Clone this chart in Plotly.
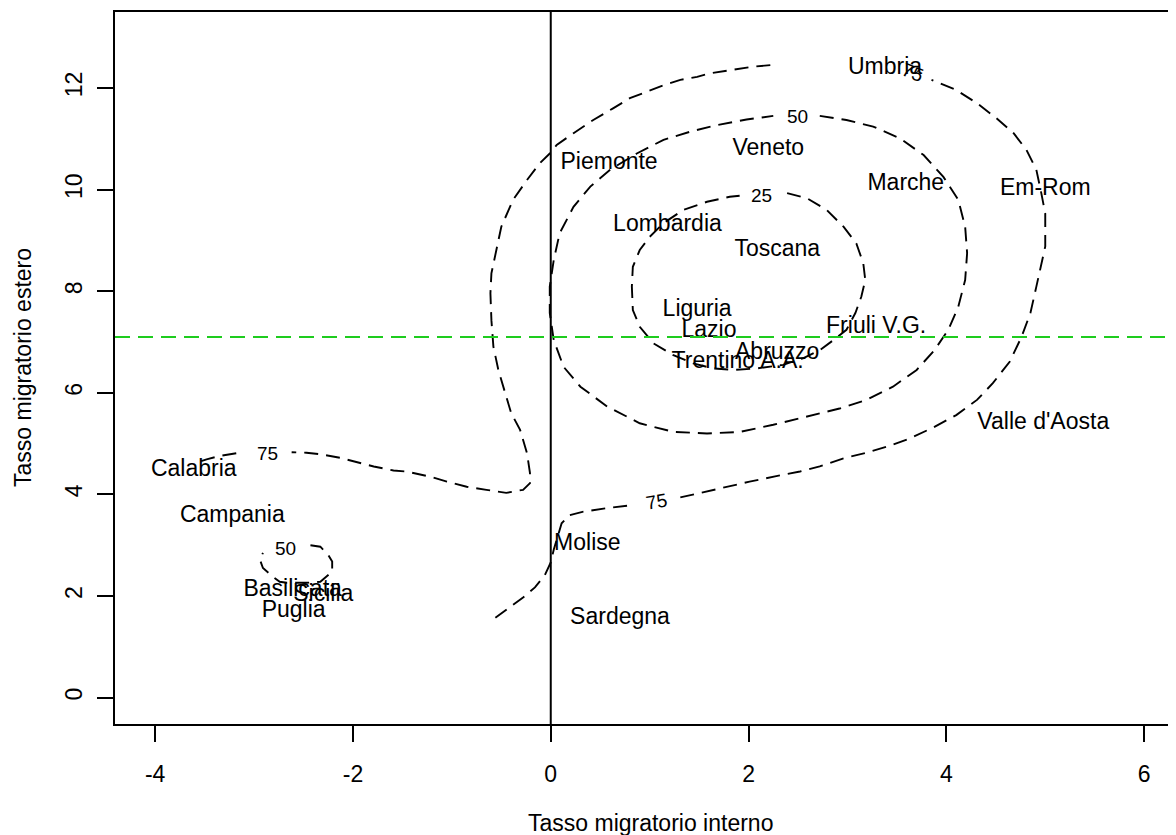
import plotly.graph_objects as go

# ---------------- data ----------------
regions = ["Umbria", "Veneto", "Piemonte", "Marche", "Em-Rom", "Lombardia",
           "Toscana", "Liguria", "Lazio", "Friuli V.G.", "Abruzzo",
           "Trentino A.A.", "Valle d'Aosta", "Calabria", "Campania", "Molise",
           "Basilicata", "Sicilia", "Puglia", "Sardegna"]
tasso_interno = [3.38, 2.20, 0.59, 3.59, 5.00, 1.18,
                 2.29, 1.48, 1.60, 3.29, 2.29,
                 1.89, 4.98, -3.61, -3.22, 0.37,
                 -2.61, -2.30, -2.60, 0.70]
tasso_estero = [12.39, 10.80, 10.52, 10.10, 10.01, 9.30,
                8.80, 7.63, 7.22, 7.30, 6.78,
                6.61, 5.40, 4.48, 3.56, 3.01,
                2.11, 2.02, 1.69, 1.56]

mean_estero = 7.10   # green dashed reference line
zero_interno = 0.0   # vertical reference line

x_ticks = [-4, -2, 0, 2, 4, 6]
y_ticks = [0, 2, 4, 6, 8, 10, 12]

# contour level 75 - first branch (two segments split by the label gap)
c75a_s1_x = [-0.56, -0.41, -0.28, -0.16, -0.06, 0.00, 0.03, 0.07, 0.11, 0.19, 0.33, 0.57, 0.83]
c75a_s1_y = [1.57, 1.78, 1.97, 2.17, 2.41, 2.66, 2.91, 3.17, 3.43, 3.59, 3.66, 3.73, 3.79]
c75a_s2_x = [1.31, 1.51, 1.71, 2.01, 2.28, 2.52, 2.72, 2.96, 3.19, 3.40, 3.63, 3.87, 4.10, 4.31,
             4.47, 4.64, 4.76, 4.85, 4.91, 4.95, 5.00, 5.00, 5.00, 4.96, 4.91, 4.81, 4.68, 4.51,
             4.31, 4.10, 3.85]
c75a_s2_y = [3.94, 4.03, 4.12, 4.25, 4.36, 4.45, 4.55, 4.71, 4.82, 4.94, 5.10, 5.32, 5.56, 5.86,
             6.19, 6.61, 7.10, 7.57, 8.09, 8.42, 8.88, 9.27, 9.53, 9.93, 10.39, 10.78, 11.11, 11.40,
             11.70, 11.96, 12.16]

# contour level 75 - second branch
c75b_s1_x = [2.22, 2.05, 1.81, 1.61, 1.48, 1.31, 1.15, 0.97, 0.80, 0.63, 0.43, 0.23, 0.06, -0.01,
             -0.11, -0.24, -0.38, -0.50, -0.56, -0.60, -0.61, -0.60, -0.58, -0.53, -0.46, -0.40,
             -0.31, -0.24, -0.21, -0.21, -0.28, -0.45, -0.65, -0.85, -1.05, -1.22, -1.46, -1.59,
             -1.79, -1.96, -2.13, -2.33, -2.47, -2.62]
c75b_s1_y = [12.45, 12.42, 12.35, 12.29, 12.22, 12.16, 12.06, 11.93, 11.80, 11.60, 11.37, 11.11,
             10.88, 10.71, 10.52, 10.19, 9.80, 9.27, 8.75, 8.35, 7.96, 7.43, 6.91, 6.45, 5.99, 5.60,
             5.27, 4.81, 4.42, 4.22, 4.09, 4.03, 4.09, 4.15, 4.25, 4.35, 4.45, 4.47, 4.55, 4.64,
             4.72, 4.79, 4.82, 4.83]
c75b_s2_x = [-3.18, -3.34, -3.48, -3.61]
c75b_s2_y = [4.81, 4.76, 4.69, 4.61]

# contour level 50 (main)
c50_x = [2.72, 2.99, 3.26, 3.53, 3.77, 3.97, 4.12, 4.19, 4.21, 4.19, 4.12, 4.02, 3.88, 3.70, 3.46,
         3.19, 2.92, 2.59, 2.25, 1.91, 1.58, 1.24, 0.90, 0.57, 0.30, 0.13, 0.03, -0.01, -0.01, 0.03,
         0.09, 0.23, 0.40, 0.60, 0.87, 1.14, 1.41, 1.68, 1.98, 2.25]
c50_y = [11.45, 11.37, 11.24, 11.01, 10.68, 10.25, 9.80, 9.27, 8.75, 8.22, 7.69, 7.24, 6.84, 6.45,
         6.12, 5.86, 5.69, 5.53, 5.37, 5.23, 5.20, 5.23, 5.40, 5.73, 6.12, 6.51, 7.04, 7.57, 8.09,
         8.61, 9.14, 9.66, 10.06, 10.39, 10.71, 10.98, 11.14, 11.27, 11.38, 11.45]

# contour level 50 (small, south)
c50s_x = [-2.43, -2.33, -2.25, -2.21, -2.21, -2.27, -2.33, -2.47, -2.67, -2.74, -2.81, -2.91, -2.94, -2.91]
c50s_y = [3.00, 2.97, 2.81, 2.68, 2.48, 2.38, 2.28, 2.26, 2.26, 2.28, 2.38, 2.55, 2.71, 2.85]

# contour level 25
c25_x = [2.39, 2.59, 2.79, 2.96, 3.09, 3.16, 3.18, 3.14, 3.08, 2.99, 2.86, 2.72, 2.55, 2.35, 2.08,
         1.85, 1.64, 1.44, 1.24, 1.04, 0.90, 0.83, 0.82, 0.83, 0.90, 1.00, 1.14, 1.34, 1.58, 1.81, 1.91]
c25_y = [9.93, 9.83, 9.60, 9.27, 8.94, 8.55, 8.22, 7.89, 7.57, 7.24, 7.04, 6.84, 6.68, 6.55, 6.48,
         6.45, 6.48, 6.58, 6.74, 6.97, 7.30, 7.63, 8.09, 8.48, 8.81, 9.07, 9.34, 9.60, 9.76, 9.86, 9.88]

# contour labels
clab_text = ["75", "75", "75", "50", "50", "25"]
clab_x = [1.07, 3.66, -2.86, 2.49, -2.68, 2.13]
clab_y = [3.86, 12.30, 4.81, 11.43, 2.94, 9.89]
clab_angle = [-10, 22, 0, 0, 0, 0]

# ---------------- figure ----------------
FONT = "Liberation Sans, Arial, Helvetica, sans-serif"


def join(*segs):
    xs, ys = [], []
    for sx, sy in segs:
        if xs:
            xs.append(None)
            ys.append(None)
        xs.extend(sx)
        ys.extend(sy)
    return xs, ys


contour_paths = [
    join((c75a_s1_x, c75a_s1_y), (c75a_s2_x, c75a_s2_y)),
    join((c75b_s1_x, c75b_s1_y), (c75b_s2_x, c75b_s2_y)),
    join((c50_x, c50_y)),
    join((c50s_x, c50s_y)),
    join((c25_x, c25_y)),
]

fig = go.Figure()

for xs, ys in contour_paths:
    fig.add_trace(go.Scatter(
        x=xs, y=ys, mode="lines", connectgaps=False,
        line=dict(color="black", width=1.9, dash="14px,8px"),
        hoverinfo="skip", showlegend=False))

fig.add_trace(go.Scatter(
    x=tasso_interno, y=tasso_estero, mode="text", text=regions,
    textposition="middle center",
    textfont=dict(family=FONT, size=23, color="black"),
    showlegend=False))

fig.add_hline(y=mean_estero, line=dict(color="#1ECC1E", width=2, dash="15px,8px"))
fig.add_vline(x=zero_interno, line=dict(color="black", width=2))

for t, x, y, a in zip(clab_text, clab_x, clab_y, clab_angle):
    fig.add_annotation(x=x, y=y, xref="x", yref="y", text=t, showarrow=False,
                       textangle=a, font=dict(family=FONT, size=19, color="black"),
                       xanchor="center", yanchor="middle")

# axis titles
fig.add_annotation(x=0.505, y=0, xref="paper", yref="paper", yshift=-99,
                   text="Tasso migratorio interno", showarrow=False,
                   xanchor="center", yanchor="middle",
                   font=dict(family=FONT, size=23, color="black"))
fig.add_annotation(x=0, y=0.5, xref="paper", yref="paper", xshift=-92,
                   text="Tasso migratorio estero", showarrow=False, textangle=-90,
                   xanchor="center", yanchor="middle",
                   font=dict(family=FONT, size=23, color="black"))

# the page body adds an 8px offset, so the figure is 8px smaller on each axis
fig.update_layout(
    width=1168, height=827,
    margin=dict(l=107, r=0, t=4, b=111),
    paper_bgcolor="white", plot_bgcolor="white",
    font=dict(family=FONT, size=23, color="black"),
    showlegend=False,
)
fig.update_xaxes(
    range=[-4.406, 6.322], tickvals=x_ticks, ticktext=[str(v) for v in x_ticks],
    showgrid=False, zeroline=False,
    showline=True, linecolor="black", linewidth=2, mirror=True,
    ticks="outside", ticklen=16, tickwidth=2, tickcolor="black",
    ticklabelstandoff=12,
    tickfont=dict(family=FONT, size=23, color="black"),
)
fig.update_yaxes(
    range=[-0.520, 13.496], tickvals=y_ticks, ticktext=[str(v) for v in y_ticks],
    showgrid=False, zeroline=False,
    showline=True, linecolor="black", linewidth=2, mirror=False,
    ticks="outside", ticklen=16, tickwidth=2, tickcolor="black",
    tickangle=-90, ticklabelstandoff=6,
    tickfont=dict(family=FONT, size=23, color="black"),
)

fig.write_html("out.html")
